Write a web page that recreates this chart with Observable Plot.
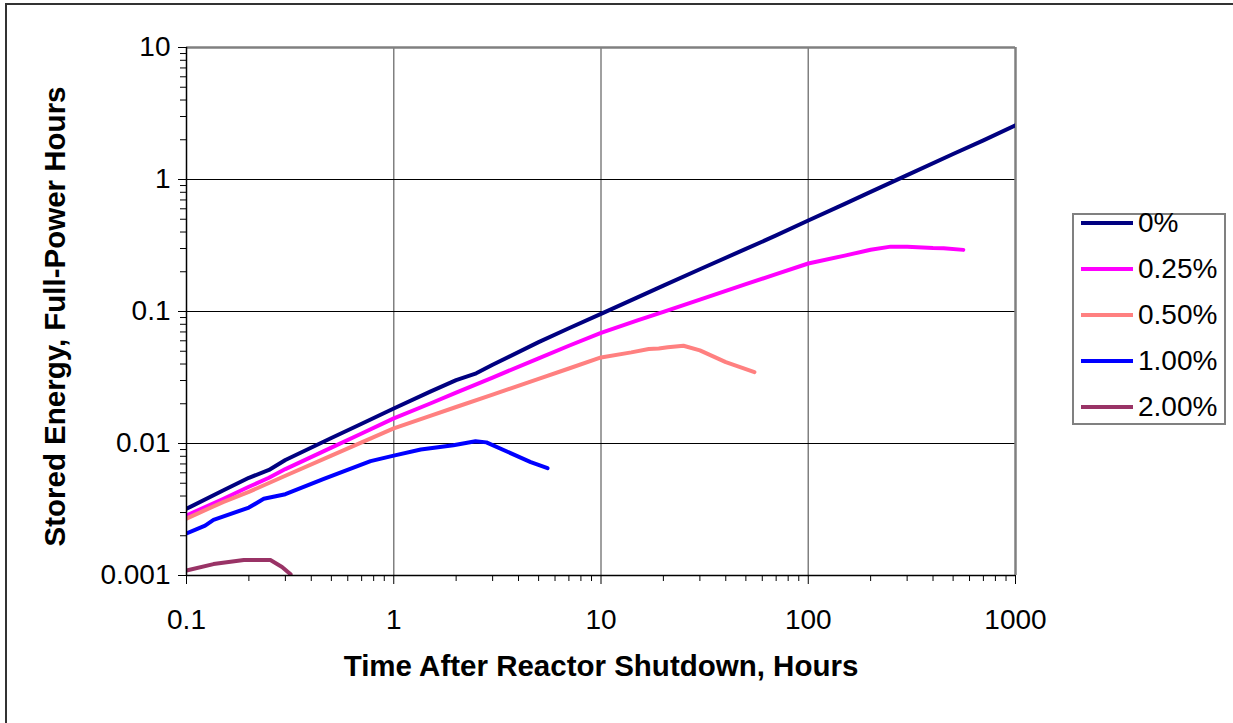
<!DOCTYPE html>
<html>
<head>
<meta charset="utf-8">
<script src="https://cdn.jsdelivr.net/npm/d3@7"></script>
<script src="https://cdn.jsdelivr.net/npm/@observablehq/plot@0.6"></script>
<style>
  html, body { margin: 0; padding: 0; background: #fff; }
  #wrap { position: relative; width: 1233px; height: 723px; overflow: hidden; font-family: "Liberation Sans", Arial, sans-serif; }
  #frame { position: absolute; left: 5px; top: 3px; width: 1300px; height: 800px; border-left: 2px solid #333; border-top: 2px solid #333; pointer-events: none; }
  #legend { position: absolute; left: 1072px; top: 213px; width: 154px; height: 212px; border: 2px solid #808080; box-sizing: border-box; background: #fff; }
  .item { position: absolute; left: 7px; height: 30px; display: flex; align-items: center; font-size: 28px; color: #000; white-space: nowrap; }
  .item svg { margin-right: 5px; }
</style>
</head>
<body>
<div id="wrap">
  <div id="chart"></div>
  <div id="legend"></div>
  <div id="frame"></div>
</div>
<script>
// ---- Data ----
const seriesNames = ["0%", "0.25%", "0.50%", "1.00%", "2.00%"];
const seriesColors = ["#000080", "#FF00FF", "#FF8080", "#0000FF", "#993366"];

const t0 = [0.1, 0.15, 0.2, 0.25, 0.3, 0.5, 0.7, 1, 1.5, 2, 2.5, 3, 5, 7, 10, 15, 20, 30, 50, 70, 100, 150, 200, 300, 500, 700, 1000];
const v0 = [0.0032, 0.0044, 0.0055, 0.0063, 0.0075, 0.011, 0.0141, 0.0184, 0.0247, 0.0302, 0.0340, 0.0395, 0.0586, 0.0747, 0.096, 0.128, 0.157, 0.209, 0.298, 0.377, 0.489, 0.654, 0.805, 1.08, 1.56, 1.98, 2.57];

const t25 = [0.1, 0.15, 0.2, 0.25, 0.3, 0.5, 0.7, 1, 1.5, 2, 3, 5, 7, 10, 15, 20, 30, 50, 70, 100, 150, 200, 250, 300, 400, 450, 560];
const v25 = [0.00285, 0.0038, 0.0047, 0.0055, 0.0064, 0.0093, 0.0119, 0.0155, 0.0201, 0.0243, 0.0316, 0.0442, 0.055, 0.069, 0.0857, 0.0995, 0.123, 0.161, 0.192, 0.231, 0.265, 0.294, 0.31, 0.31, 0.303, 0.302, 0.293];

const t50 = [0.1, 0.15, 0.2, 0.3, 0.5, 0.7, 1, 1.5, 2, 3, 5, 7, 10, 14, 17, 19, 21, 25, 30, 40, 55];
const v50 = [0.0027, 0.0036, 0.0043, 0.0057, 0.0081, 0.0102, 0.013, 0.0162, 0.0189, 0.0235, 0.0309, 0.037, 0.0449, 0.049, 0.052, 0.0525, 0.0535, 0.055, 0.0507, 0.0413, 0.0347];

const t100 = [0.1, 0.123, 0.135, 0.2, 0.236, 0.3, 0.46, 0.773, 1, 1.35, 1.94, 2.48, 2.8, 4.58, 5.52];
const v100 = [0.00208, 0.00239, 0.00264, 0.00327, 0.00381, 0.00413, 0.0054, 0.00735, 0.0081, 0.009, 0.0097, 0.0104, 0.0102, 0.00723, 0.0065];

const t200 = [0.1, 0.135, 0.189, 0.254, 0.289, 0.318];
const v200 = [0.00109, 0.00122, 0.00131, 0.00131, 0.00116, 0.00102];

const xMajor = [0.1, 1, 10, 100, 1000];
const xMajorLabels = ["0.1", "1", "10", "100", "1000"];
const yMajor = [0.001, 0.01, 0.1, 1, 10];
const yMajorLabels = ["0.001", "0.01", "0.1", "1", "10"];
const minorMult = [2, 3, 4, 5, 6, 7, 8, 9];
const xTitle = "Time After Reactor Shutdown, Hours";
const yTitle = "Stored Energy, Full-Power Hours";

// ---- Build table ----
const allT = [t0, t25, t50, t100, t200];
const allV = [v0, v25, v50, v100, v200];
const rows = [];
allT.forEach((ts, i) => ts.forEach((t, j) => rows.push({series: seriesNames[i], t, v: allV[i][j]})));

const xMinor = [];
[0.1, 1, 10, 100].forEach(d => minorMult.forEach(m => xMinor.push(+(d * m).toPrecision(3))));
const yMinor = [];
[0.001, 0.01, 0.1, 1].forEach(d => minorMult.forEach(m => yMinor.push(+(d * m).toPrecision(3))));

const chart = Plot.plot({
  width: 1233,
  height: 723,
  marginLeft: 186,
  marginRight: 218,
  marginTop: 47,
  marginBottom: 148,
  x: {type: "log", domain: [0.1, 1000]},
  y: {type: "log", domain: [0.001, 10]},
  color: {domain: seriesNames, range: seriesColors},
  style: {fontFamily: "'Liberation Sans', Arial, sans-serif", fontSize: "28px", background: "transparent", color: "#000"},
  marks: [
    Plot.ruleX([1, 10, 100], {stroke: "#808080", strokeWidth: 1.5}),
    Plot.ruleY([0.01, 0.1, 1], {stroke: "#000", strokeWidth: 1.2}),
    Plot.ruleY([10], {stroke: "#808080", strokeWidth: 2.5}),
    Plot.ruleX([1000], {stroke: "#808080", strokeWidth: 2.5}),
    Plot.line(rows, {x: "t", y: "v", z: "series", stroke: "series", strokeWidth: 4, clip: true}),
    Plot.ruleY([0.001], {stroke: "#000", strokeWidth: 1.5}),
    Plot.ruleX([0.1], {stroke: "#000", strokeWidth: 1.5}),
    Plot.axisX(xMinor, {tickSize: 6, tickFormat: () => "", stroke: "#000", label: null}),
    Plot.axisX(xMajor, {tickSize: 9, tickPadding: 25, tickFormat: (d) => xMajorLabels[xMajor.indexOf(d)], stroke: "#000", fill: "#000", fontSize: 28, label: null}),
    Plot.axisY(yMinor, {tickSize: 6, tickFormat: () => "", stroke: "#000", label: null}),
    Plot.axisY(yMajor, {tickSize: 8, tickPadding: 8, tickFormat: (d) => yMajorLabels[yMajor.indexOf(d)], stroke: "#000", fill: "#000", fontSize: 28, label: null}),
    Plot.text([xTitle], {frameAnchor: "bottom", dy: 100, fontWeight: "bold", fontSize: 29.5, fill: "#000", text: d => d}),
    Plot.text([yTitle], {frameAnchor: "left", dx: -131, dy: 5, rotate: -90, textAnchor: "middle", fontWeight: "bold", fontSize: 29.5, fill: "#000", text: d => d})
  ]
});
document.getElementById("chart").appendChild(chart);

// ---- Legend ----
const legend = document.getElementById("legend");
seriesNames.forEach((name, i) => {
  const item = document.createElement("div");
  item.className = "item";
  item.style.top = (-7 + i * 46) + "px";
  item.innerHTML = `<svg width="52" height="8"><line x1="0" y1="4" x2="52" y2="4" stroke="${seriesColors[i]}" stroke-width="4"/></svg><span>${name}</span>`;
  legend.appendChild(item);
});
</script>
</body>
</html>
